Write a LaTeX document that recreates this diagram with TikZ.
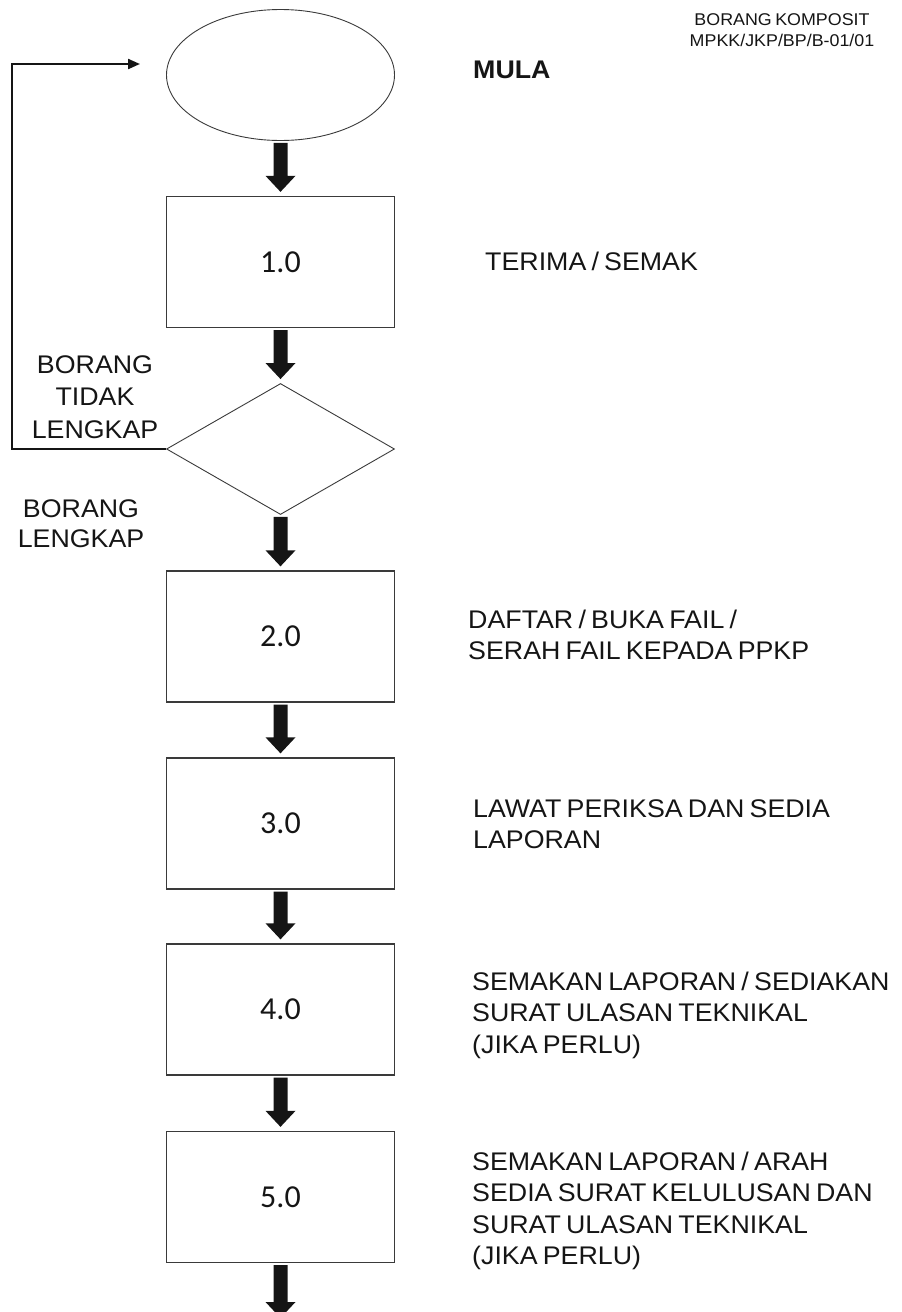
\documentclass[tikz,border=0pt]{standalone}
\usepackage{fontspec}
\setmainfont{Liberation Sans}[FakeStretch=1.05,WordSpace=0.7]
\newfontfamily\numfont{Carlito}
\usetikzlibrary{shapes.geometric,arrows.meta,calc}
\definecolor{linegray}{HTML}{3A3A3A}
\definecolor{inkblack}{HTML}{151515}
\newcommand\thickarrow[2]{%
  \fill[inkblack] ($(#1.south)+(-7,2)$) -- ($(#1.south)+(7,2)$)
    -- ($(#2.north)+(7,-20)$) -- ($(#2.north)+(15,-20)$)
    -- ($(#2.north)+(0,-4)$) -- ($(#2.north)+(-15,-20)$)
    -- ($(#2.north)+(-7,-20)$) -- cycle;}
\begin{document}
\begin{tikzpicture}[x=1pt,y=-1pt,
  stepbox/.style={draw=linegray,line width=1.3pt,minimum width=228pt,minimum height=131pt,inner sep=0pt,
    font=\numfont\fontsize{32}{38}\selectfont,text=inkblack},
  startoval/.style={ellipse,draw=linegray,line width=0.9pt,minimum width=228pt,minimum height=131pt,inner sep=0pt},
  decide/.style={diamond,draw=linegray,line width=0.9pt,minimum width=228pt,minimum height=131pt,inner sep=0pt},
  lbl/.style={inner sep=0pt,anchor=base west,text=inkblack,font=\fontsize{25.5}{31.5}\selectfont},
  sidelbl/.style={inner sep=0pt,anchor=base,text=inkblack,font=\fontsize{25.5}{32.5}\selectfont},
  fb/.style={draw=inkblack,line width=2.2pt,-{Triangle[length=12pt,width=10pt]}}
]
\useasboundingbox (0,0) rectangle (902,1312);

% header
\node[inner sep=0pt,anchor=base,text=inkblack,font=\fontsize{17}{21.5}\selectfont] (hdr) at (782,25)
  {\begin{tabular}[t]{@{}c@{}}BORANG KOMPOSIT\\MPKK/JKP/BP/B-01/01\end{tabular}};

% shapes
\node[startoval] (mula) at (280.5,75) {};
\node[stepbox] (s1) at (280.5,262) {1.0};
\node[decide] (d) at (280.5,449) {};
\node[stepbox] (s2) at (280.5,636.5) {2.0};
\node[stepbox] (s3) at (280.5,823.5) {3.0};
\node[stepbox] (s4) at (280.5,1009.5) {4.0};
\node[stepbox] (s5) at (280.5,1197) {5.0};
\coordinate (fin) at (280.5,1322);

% thick arrows
\thickarrow{mula}{s1}
\thickarrow{s1}{d}
\thickarrow{d}{s2}
\thickarrow{s2}{s3}
\thickarrow{s3}{s4}
\thickarrow{s4}{s5}
\thickarrow{s5}{fin}

% feedback loop
\coordinate (fbcorner) at (12,64);
\coordinate (fbend) at (140,64);
\draw[fb] (d.west) -| (fbcorner) -- (fbend);

% side labels
\node[sidelbl] (notok) at (95,373)
  {\begin{tabular}[t]{@{}c@{}}BORANG\\TIDAK\\LENGKAP\end{tabular}};
\node[sidelbl,font=\fontsize{25.5}{30.5}\selectfont] (ok) at (81,517)
  {\begin{tabular}[t]{@{}c@{}}BORANG\\LENGKAP\end{tabular}};

% right labels
\node[lbl,font=\bfseries\fontsize{25.5}{31.5}\selectfont] (tmula) at (473,78) {MULA};
\node[lbl] (t1) at (485,270) {TERIMA / SEMAK};
\node[lbl] (t2) at (468,628)
  {\begin{tabular}[t]{@{}l@{}}DAFTAR / BUKA FAIL /\\SERAH FAIL KEPADA PPKP\end{tabular}};
\node[lbl] (t3) at (473,817)
  {\begin{tabular}[t]{@{}l@{}}LAWAT PERIKSA DAN SEDIA\\LAPORAN\end{tabular}};
\node[lbl] (t4) at (472,990)
  {\begin{tabular}[t]{@{}l@{}}SEMAKAN LAPORAN / SEDIAKAN\\SURAT ULASAN TEKNIKAL\\(JIKA PERLU)\end{tabular}};
\node[lbl] (t5) at (472,1170)
  {\begin{tabular}[t]{@{}l@{}}SEMAKAN LAPORAN / ARAH\\SEDIA SURAT KELULUSAN DAN\\SURAT ULASAN TEKNIKAL\\(JIKA PERLU)\end{tabular}};
\end{tikzpicture}
\end{document}
